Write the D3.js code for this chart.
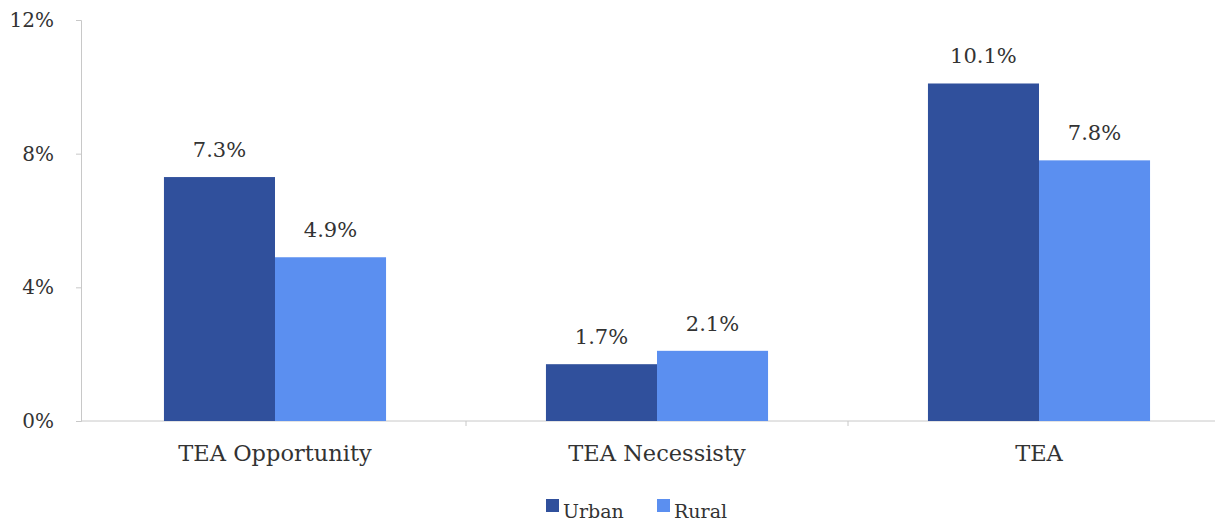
<!DOCTYPE html>
<html>
<head>
<meta charset="utf-8">
<script src="https://cdn.jsdelivr.net/npm/d3@7"></script>
<style>
  body { margin: 0; background: #fff; }
</style>
</head>
<body>
<script>
const categories = ["TEA Opportunity", "TEA Necessisty", "TEA"];
const seriesNames = ["Urban", "Rural"];
const urban = [7.3, 1.7, 10.1];
const rural = [4.9, 2.1, 7.8];
const yTicks = [0, 4, 8, 12];

const colors = { Urban: "#30509c", Rural: "#5b8ff0" };
const FONT = "'DejaVu Serif', serif";

const width = 1221;
const height = 525;
const margin = { top: 20, left: 81, bottom: 104, right: 6 };

const rows = categories.map((c, i) => ({ cat: c, Urban: urban[i], Rural: rural[i] }));

const svg = d3.select("body").append("svg")
  .attr("width", width)
  .attr("height", height)
  .style("font-family", FONT);

const y = d3.scaleLinear()
  .domain([0, 12])
  .range([height - margin.bottom, margin.top]);

const x0 = d3.scaleBand()
  .domain(categories)
  .range([84, 1230])
  .padding(0);

const x1 = d3.scaleBand()
  .domain(seriesNames)
  .range([0, x0.bandwidth()])
  .paddingInner(0)
  .paddingOuter(0.72);

// y axis
const yAxis = svg.append("g")
  .attr("transform", `translate(${margin.left},0)`)
  .call(d3.axisLeft(y).tickValues(yTicks).tickFormat(d => d + "%").tickSize(5).tickPadding(22));
yAxis.attr("font-family", null);
yAxis.select(".domain").attr("stroke", "#c8c8c8");
yAxis.selectAll(".tick line").attr("stroke", "#c8c8c8");
yAxis.selectAll(".tick text")
  .style("font-family", FONT)
  .style("font-size", "20px")
  .attr("fill", "#333")
  .attr("dy", "0.32em");

// x axis line with category boundary ticks
const xAxisG = svg.append("g");
xAxisG.append("line")
  .attr("x1", margin.left).attr("x2", 1215)
  .attr("y1", y(0)).attr("y2", y(0))
  .attr("stroke", "#c8c8c8");
xAxisG.selectAll("line.bound")
  .data(categories.slice(1))
  .join("line")
  .attr("class", "bound")
  .attr("x1", d => x0(d)).attr("x2", d => x0(d))
  .attr("y1", y(0)).attr("y2", y(0) + 5)
  .attr("stroke", "#c8c8c8");
xAxisG.selectAll("text")
  .data(categories)
  .join("text")
  .attr("x", d => x0(d) + x0.bandwidth() / 2)
  .attr("y", y(0) + 40)
  .attr("text-anchor", "middle")
  .attr("fill", "#333")
  .style("font-family", FONT)
  .style("font-size", "22.5px")
  .text(d => d);

// bars
const groups = svg.append("g")
  .selectAll("g")
  .data(rows)
  .join("g")
  .attr("transform", d => `translate(${x0(d.cat)},0)`);

groups.selectAll("rect")
  .data(d => seriesNames.map(s => ({ key: s, value: d[s] })))
  .join("rect")
  .attr("x", d => x1(d.key))
  .attr("y", d => y(d.value))
  .attr("width", x1.bandwidth())
  .attr("height", d => y(0) - y(d.value))
  .attr("fill", d => colors[d.key]);

groups.selectAll("text")
  .data(d => seriesNames.map(s => ({ key: s, value: d[s] })))
  .join("text")
  .attr("x", d => x1(d.key) + x1.bandwidth() / 2)
  .attr("y", d => y(d.value) - 20)
  .attr("text-anchor", "middle")
  .attr("fill", "#333")
  .style("font-family", FONT)
  .style("font-size", "21px")
  .text(d => d.value.toFixed(1) + "%");

// legend
const legend = svg.append("g")
  .attr("transform", "translate(546,518)");
const items = legend.selectAll("g")
  .data(seriesNames)
  .join("g")
  .attr("transform", (d, i) => `translate(${i * 111},0)`);
items.append("rect")
  .attr("x", 0).attr("y", -19)
  .attr("width", 13).attr("height", 13)
  .attr("fill", d => colors[d]);
items.append("text")
  .attr("x", 17)
  .attr("y", 0)
  .attr("fill", "#333")
  .style("font-family", FONT)
  .style("font-size", "19px")
  .text(d => d);
</script>
</body>
</html>
